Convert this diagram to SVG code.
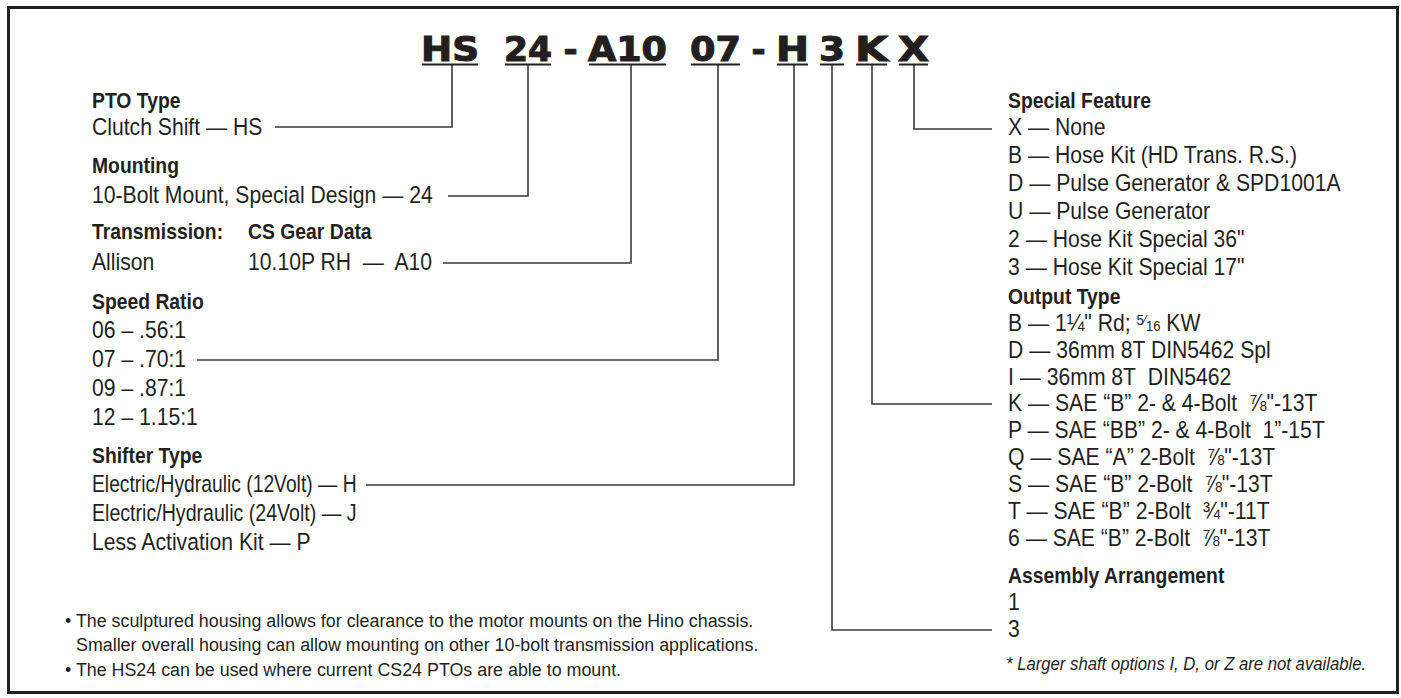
<svg xmlns="http://www.w3.org/2000/svg" width="1401" height="698" viewBox="0 0 1401 698">
<style>
.t{font-family:"Liberation Sans",Arial,sans-serif;font-size:23.5px;fill:#231f20}
.b{font-family:"Liberation Sans",Arial,sans-serif;font-size:22.5px;font-weight:bold;fill:#231f20}
.n{font-family:"Liberation Sans",Arial,sans-serif;font-size:19px;fill:#231f20}
.ni{font-family:"Liberation Sans",Arial,sans-serif;font-size:19px;font-style:italic;fill:#231f20}
.code{font-family:"DejaVu Sans",Verdana,sans-serif;font-size:34px;font-weight:bold;fill:#231f20;stroke:#231f20;stroke-width:1.1}
.ul{stroke:#231f20;stroke-width:2.2;fill:none}
.c{stroke:#3a3a3a;stroke-width:1.6;fill:none}
.fr{font-size:14.5px}
</style>
<rect x="8.5" y="7.5" width="1389" height="685" fill="#ffffff" stroke="#231f20" stroke-width="3"/>

<g id="title">
<text class="code" x="421" y="61" textLength="58" lengthAdjust="spacingAndGlyphs">HS</text>
<text class="code" x="504" y="61" textLength="48" lengthAdjust="spacingAndGlyphs">24</text>
<text class="code" x="570.5" y="61" text-anchor="middle">-</text>
<text class="code" x="588" y="61" textLength="79" lengthAdjust="spacingAndGlyphs">A10</text>
<text class="code" x="690" y="61" textLength="51" lengthAdjust="spacingAndGlyphs">07</text>
<text class="code" x="758.5" y="61" text-anchor="middle">-</text>
<text class="code" x="776" y="61" textLength="33" lengthAdjust="spacingAndGlyphs">H</text>
<text class="code" x="819" y="61" textLength="26" lengthAdjust="spacingAndGlyphs">3</text>
<text class="code" x="855" y="61" textLength="33" lengthAdjust="spacingAndGlyphs">K</text>
<text class="code" x="898" y="61" textLength="31" lengthAdjust="spacingAndGlyphs">X</text>
<path class="ul" d="M422 64.5H478M505 64.5H551M589 64.5H666M691 64.5H740M777 64.5H808M820 64.5H844M856 64.5H887M899 64.5H928"/>
</g>

<g id="connectors">
<path class="c" d="M452 65V127H275"/>
<path class="c" d="M528 65V196H448"/>
<path class="c" d="M631 65V263H443"/>
<path class="c" d="M718 65V360H197"/>
<path class="c" d="M794 65V485H366"/>
<path class="c" d="M832 65V630H992"/>
<path class="c" d="M872 65V404H992"/>
<path class="c" d="M914 65V129H992"/>
</g>

<g id="pto-type">
<text class="b" transform="matrix(.86 0 0 1 92 108)">PTO Type</text>
<text class="t" transform="matrix(.9 0 0 1 92 135)">Clutch Shift — HS</text>
</g>
<g id="mounting">
<text class="b" transform="matrix(.86 0 0 1 92 173)">Mounting</text>
<text class="t" transform="matrix(.9 0 0 1 92 203)">10-Bolt Mount, Special Design — 24</text>
</g>
<g id="transmission">
<text class="b" transform="matrix(.86 0 0 1 92 239)">Transmission:</text>
<text class="b" transform="matrix(.86 0 0 1 248 239)">CS Gear Data</text>
<text class="t" transform="matrix(.9 0 0 1 92 270)">Allison</text>
<text class="t" transform="matrix(.9 0 0 1 248 270)">10.10P RH&#160; —&#160; A10</text>
</g>
<g id="speed-ratio">
<text class="b" transform="matrix(.86 0 0 1 92 309)">Speed Ratio</text>
<text class="t" transform="matrix(.9 0 0 1 92 338)">06 – .56:1</text>
<text class="t" transform="matrix(.9 0 0 1 92 367)">07 – .70:1</text>
<text class="t" transform="matrix(.9 0 0 1 92 396)">09 – .87:1</text>
<text class="t" transform="matrix(.9 0 0 1 92 425)">12 – 1.15:1</text>
</g>
<g id="shifter-type">
<text class="b" transform="matrix(.86 0 0 1 92 463)">Shifter Type</text>
<text class="t" transform="matrix(.9 0 0 1 92 492)" textLength="294" lengthAdjust="spacingAndGlyphs">Electric/Hydraulic (12Volt) — H</text>
<text class="t" transform="matrix(.9 0 0 1 92 521)" textLength="294" lengthAdjust="spacingAndGlyphs">Electric/Hydraulic (24Volt) — J</text>
<text class="t" transform="matrix(.9 0 0 1 92 550)">Less Activation Kit — P</text>
</g>
<g id="notes">
<text class="n" transform="matrix(.94 0 0 1 65 627)">• The sculptured housing allows for clearance to the motor mounts on the Hino chassis.</text>
<text class="n" transform="matrix(.94 0 0 1 76 651)">Smaller overall housing can allow mounting on other 10-bolt transmission applications.</text>
<text class="n" transform="matrix(.94 0 0 1 65 676)">• The HS24 can be used where current CS24 PTOs are able to mount.</text>
</g>

<g id="special-feature">
<text class="b" transform="matrix(.86 0 0 1 1008 108)">Special Feature</text>
<text class="t" transform="matrix(.9 0 0 1 1008 135)">X — None</text>
<text class="t" transform="matrix(.9 0 0 1 1008 163)">B — Hose Kit (HD Trans. R.S.)</text>
<text class="t" transform="matrix(.9 0 0 1 1008 191)">D — Pulse Generator &amp; SPD1001A</text>
<text class="t" transform="matrix(.9 0 0 1 1008 219)">U — Pulse Generator</text>
<text class="t" transform="matrix(.9 0 0 1 1008 247)">2 — Hose Kit Special 36"</text>
<text class="t" transform="matrix(.9 0 0 1 1008 275)">3 — Hose Kit Special 17"</text>
</g>
<g id="output-type">
<text class="b" transform="matrix(.86 0 0 1 1008 304)">Output Type</text>
<text class="t" transform="matrix(.9 0 0 1 1008 331)">B — 1¼" Rd; <tspan class="fr" dy="-6">5</tspan><tspan class="fr">⁄</tspan><tspan class="fr" dy="6">16</tspan> KW</text>
<text class="t" transform="matrix(.9 0 0 1 1008 358)">D — 36mm 8T DIN5462 Spl</text>
<text class="t" transform="matrix(.9 0 0 1 1008 385)">I — 36mm 8T&#160; DIN5462</text>
<text class="t" transform="matrix(.9 0 0 1 1008 411)">K — SAE “B” 2- &amp; 4-Bolt&#160; ⅞"-13T</text>
<text class="t" transform="matrix(.9 0 0 1 1008 438)">P — SAE “BB” 2- &amp; 4-Bolt&#160; 1”-15T</text>
<text class="t" transform="matrix(.9 0 0 1 1008 465)">Q — SAE “A” 2-Bolt&#160; ⅞"-13T</text>
<text class="t" transform="matrix(.9 0 0 1 1008 492)">S — SAE “B” 2-Bolt&#160; ⅞"-13T</text>
<text class="t" transform="matrix(.9 0 0 1 1008 519)">T — SAE “B” 2-Bolt&#160; ¾"-11T</text>
<text class="t" transform="matrix(.9 0 0 1 1008 546)">6 — SAE “B” 2-Bolt&#160; ⅞"-13T</text>
</g>
<g id="assembly-arrangement">
<text class="b" transform="matrix(.86 0 0 1 1008 583)">Assembly Arrangement</text>
<text class="t" transform="matrix(.9 0 0 1 1008 610)">1</text>
<text class="t" transform="matrix(.9 0 0 1 1008 637)">3</text>
</g>
<g id="footnote">
<text class="ni" transform="matrix(.88 0 0 1 1006 670)">* Larger shaft options I, D, or Z are not available.</text>
</g>
</svg>
